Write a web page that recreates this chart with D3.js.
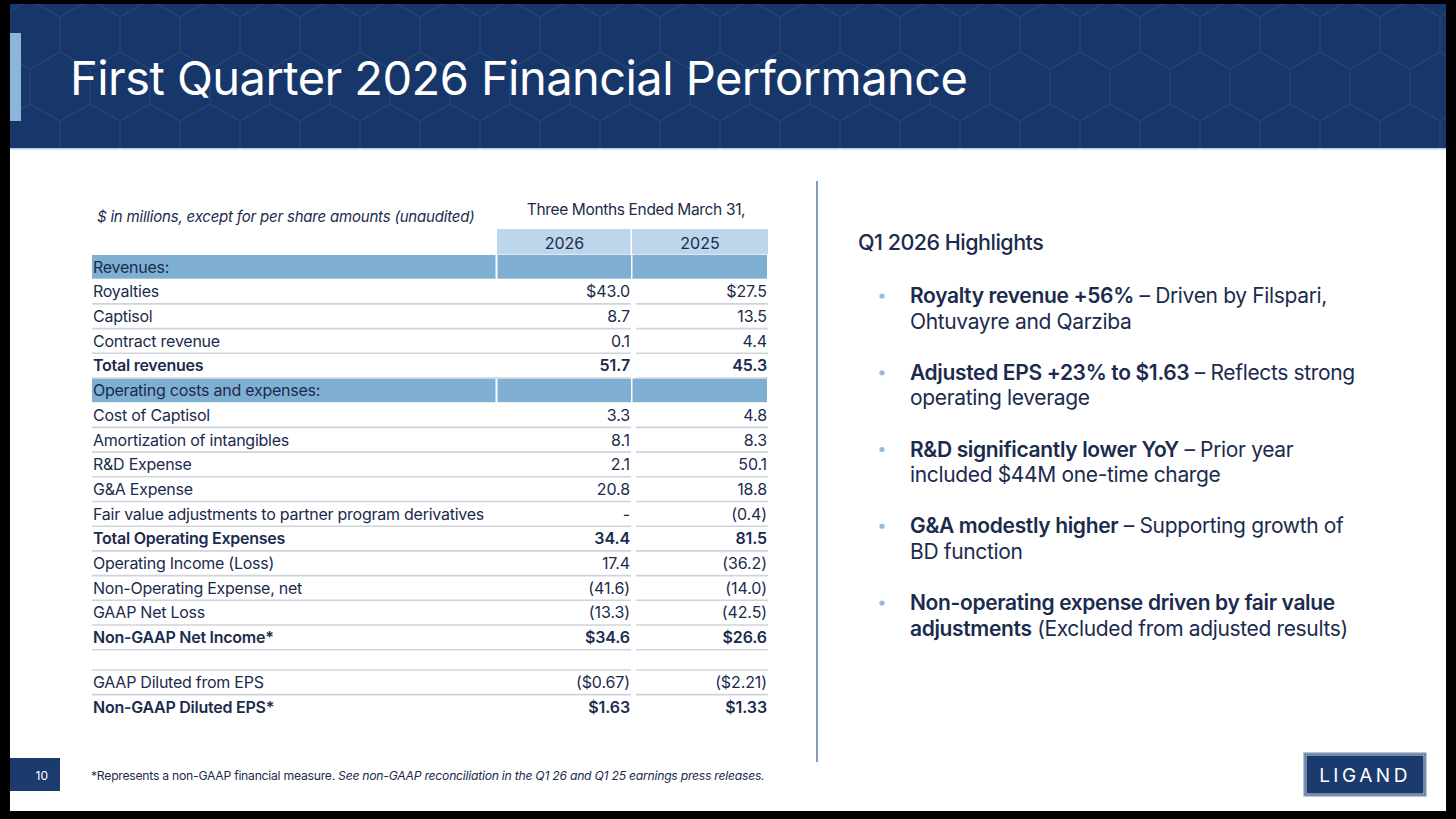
<!DOCTYPE html>
<html>
<head>
<meta charset="utf-8">
<script src="https://cdn.jsdelivr.net/npm/d3@7"></script>
<style>
  body { margin: 0; background: #000; }
  svg { display: block; }
  text { font-family: Inter, "Noto Sans", sans-serif; }
</style>
</head>
<body>
<svg id="chart"></svg>
<script>
// Table data
const rowLabels = [
  "Revenues:", "Royalties", "Captisol", "Contract revenue", "Total revenues",
  "Operating costs and expenses:", "Cost of Captisol", "Amortization of intangibles",
  "R&D Expense", "G&A Expense", "Fair value adjustments to partner program derivatives",
  "Total Operating Expenses", "Operating Income (Loss)", "Non-Operating Expense, net",
  "GAAP Net Loss", "Non-GAAP Net Income*", "", "GAAP Diluted from EPS", "Non-GAAP Diluted EPS*"
];
const rowKinds = [
  "section", "item", "item", "item", "total",
  "section", "item", "item", "item", "item", "item",
  "total", "item", "item", "item", "total", "spacer", "item", "total"
];
const q2026 = [null, 43.0, 8.7, 0.1, 51.7, null, 3.3, 8.1, 2.1, 20.8, 0, 34.4, 17.4, -41.6, -13.3, 34.6, null, -0.67, 1.63];
const q2025 = [null, 27.5, 13.5, 4.4, 45.3, null, 4.8, 8.3, 50.1, 18.8, -0.4, 81.5, -36.2, -14.0, -42.5, 26.6, null, -2.21, 1.33];
const dollarRows = ["Royalties", "Non-GAAP Net Income*", "GAAP Diluted from EPS", "Non-GAAP Diluted EPS*"];
const perShareRows = ["GAAP Diluted from EPS", "Non-GAAP Diluted EPS*"];
const years = ["2026", "2025"];

const highlights = [
  [[["Royalty revenue +56%", true], [" – Driven by Filspari,", false]], [["Ohtuvayre and Qarziba", false]]],
  [[["Adjusted EPS +23% to $1.63", true], [" – Reflects strong", false]], [["operating leverage", false]]],
  [[["R&D significantly lower YoY", true], [" – Prior year", false]], [["included $44M one-time charge", false]]],
  [[["G&A modestly higher", true], [" – Supporting growth of", false]], [["BD function", false]]],
  [[["Non-operating expense driven by fair value", true]], [["adjustments", true], [" (Excluded from adjusted results)", false]]]
];

const width = 1456, height = 819;
const navy = "#1b2b4d";
const svg = d3.select("#chart").attr("width", width).attr("height", height);

// slide background inside black frame
svg.append("rect").attr("x", 0).attr("y", 0).attr("width", width).attr("height", height).attr("fill", "#000");
svg.append("rect").attr("x", 10).attr("y", 4).attr("width", 1436).attr("height", 807).attr("fill", "#fff");

// header band with hex pattern
const defs = svg.append("defs");
const pat = defs.append("pattern").attr("id", "hex").attr("patternUnits", "userSpaceOnUse")
  .attr("width", 60).attr("height", 104);
pat.append("path")
  .attr("d", "M0,17 L30,0 L60,17 M30,0 L30,-17 M0,17 L0,52 L30,69 L60,52 L60,17 M30,69 L30,104 M0,52 L-30,69 M60,52 L90,69")
  .attr("fill", "none").attr("stroke", "rgba(255,255,255,0.07)").attr("stroke-width", 1.2);
svg.append("rect").attr("x", 10).attr("y", 4).attr("width", 1436).attr("height", 144).attr("fill", "#17376b");
svg.append("rect").attr("x", 10).attr("y", 4).attr("width", 1436).attr("height", 144).attr("fill", "url(#hex)");
svg.append("rect").attr("x", 10).attr("y", 148).attr("width", 1436).attr("height", 1.5).attr("fill", "#b7cbe3");
svg.append("rect").attr("x", 10).attr("y", 33).attr("width", 11).attr("height", 88).attr("fill", "#8db4d9");
svg.append("text").attr("x", 70).attr("y", 95).attr("fill", "#fff")
  .attr("font-size", 47).attr("letter-spacing", -0.55).attr("font-weight", 400)
  .text("First Quarter 2026 Financial Performance");

// table scales
const slot = rowKinds.map(k => k === "spacer" ? 0.82 : 1);
const cum = [0];
slot.forEach(s => cum.push(cum[cum.length - 1] + s));
const y = d3.scaleLinear().domain([0, cum[cum.length - 1]]).range([254.5, 254.5 + 24.7 * cum[cum.length - 1]]);
const rowTop = i => y(cum[i]);
const rowH = i => y(cum[i + 1]) - y(cum[i]);
const x = d3.scaleOrdinal().domain(["label", ...years]).range([92, 497, 632]);
const colRight = { label: 497, "2026": 632, "2025": 768 };

const fmt = (v, label) => {
  if (v === null) return "";
  if (v === 0) return "-";
  const s = (dollarRows.includes(label) ? "$" : "") + d3.format(perShareRows.includes(label) ? ".2f" : ".1f")(Math.abs(v));
  return v < 0 ? "(" + s + ")" : s;
};

const tbl = svg.append("g");
tbl.append("text").attr("x", 97).attr("y", 222).attr("fill", navy).attr("font-size", 15)
  .attr("font-style", "italic").attr("letter-spacing", -0.2)
  .text("$ in millions, except for per share amounts (unaudited)");
tbl.append("text").attr("x", 636).attr("y", 215).attr("text-anchor", "middle").attr("fill", navy)
  .attr("font-size", 15.5).attr("letter-spacing", -0.35).text("Three Months Ended March 31,");

// year header cells
tbl.selectAll(".yearcell").data(years).join("rect")
  .attr("x", d => x(d)).attr("y", 229).attr("width", d => colRight[d] - x(d) - (d === "2026" ? 1.5 : 0)).attr("height", 25.5)
  .attr("fill", "#bdd6ec");
tbl.selectAll(".yeartxt").data(years).join("text")
  .attr("x", d => (x(d) + colRight[d]) / 2).attr("y", 248.5).attr("text-anchor", "middle")
  .attr("fill", navy).attr("font-size", 16).text(d => d);

const rows = rowLabels.map((label, i) => ({ label, kind: rowKinds[i], v26: q2026[i], v25: q2025[i], i }));

// section bars
const sections = rows.filter(r => r.kind === "section");
["label", ...years].forEach(c => {
  tbl.selectAll(null).data(sections).join("rect")
    .attr("x", x(c) + (c === "label" ? 0 : 0.5)).attr("y", r => rowTop(r.i) + 0.5)
    .attr("width", colRight[c] - x(c) - 1.5).attr("height", r => rowH(r.i) - 1)
    .attr("fill", "#7fafd3");
});

// row separator lines
const lined = rows.filter(r => r.kind !== "section" && r.kind !== "spacer" && r.i < rows.length - 1);
const afterSpacer = rows.filter(r => r.i > 0 && rows[r.i - 1].kind === "spacer");
const lineSegs = [[92, 631], [636, 768]];
lineSegs.forEach(seg => {
  tbl.selectAll(null).data(lined).join("line")
    .attr("x1", seg[0]).attr("x2", seg[1])
    .attr("y1", r => rowTop(r.i) + rowH(r.i)).attr("y2", r => rowTop(r.i) + rowH(r.i))
    .attr("stroke", "#d0d3d9").attr("stroke-width", 1.6);
  tbl.selectAll(null).data(afterSpacer).join("line")
    .attr("x1", seg[0]).attr("x2", seg[1])
    .attr("y1", r => rowTop(r.i)).attr("y2", r => rowTop(r.i))
    .attr("stroke", "#d0d3d9").attr("stroke-width", 1.6);
});

// labels and values
const textRows = rows.filter(r => r.kind !== "spacer");
const weight = r => r.kind === "total" ? 600 : 400;
const baseY = r => rowTop(r.i) + rowH(r.i) / 2 + 5.8;
tbl.selectAll(".lbl").data(textRows).join("text")
  .attr("x", 93).attr("y", baseY)
  .attr("fill", navy).attr("font-size", 16).attr("font-weight", weight).attr("letter-spacing", -0.25)
  .text(r => r.label);
tbl.selectAll(".v26").data(textRows).join("text")
  .attr("x", 630).attr("y", baseY).attr("text-anchor", "end")
  .attr("fill", navy).attr("font-size", 16).attr("font-weight", weight).attr("letter-spacing", -0.1)
  .text(r => fmt(r.v26, r.label));
tbl.selectAll(".v25").data(textRows).join("text")
  .attr("x", 767).attr("y", baseY).attr("text-anchor", "end")
  .attr("fill", navy).attr("font-size", 16).attr("font-weight", weight).attr("letter-spacing", -0.1)
  .text(r => fmt(r.v25, r.label));

// divider
svg.append("line").attr("x1", 817).attr("x2", 817).attr("y1", 181).attr("y2", 762)
  .attr("stroke", "#5c7aa3").attr("stroke-width", 1.5);

// highlights
const hl = svg.append("g");
hl.append("text").attr("x", 858).attr("y", 249.5).attr("fill", navy).attr("font-size", 21.5)
  .attr("font-weight", 500).attr("letter-spacing", -0.5).text("Q1 2026 Highlights");
const hy = d3.scaleLinear().domain([0, 4]).range([303, 610]);
highlights.forEach((item, k) => {
  hl.append("circle").attr("cx", 882).attr("cy", hy(k) - 7).attr("r", 2.6).attr("fill", "#9ab8d8");
  item.forEach((line, j) => {
    const t = hl.append("text").attr("x", 910).attr("y", hy(k) + j * 25.5)
      .attr("fill", navy).attr("font-size", 21).attr("letter-spacing", -0.35);
    t.selectAll("tspan").data(line).join("tspan")
      .attr("font-weight", d => d[1] ? 600 : 400).text(d => d[0]);
  });
});

// footer
svg.append("rect").attr("x", 10).attr("y", 758).attr("width", 50).attr("height", 33).attr("fill", "#1b3a6e");
svg.append("text").attr("x", 48).attr("y", 779.5).attr("text-anchor", "end").attr("fill", "#fff")
  .attr("font-size", 12).text("10");
const foot = svg.append("text").attr("x", 91).attr("y", 780).attr("fill", navy).attr("font-size", 12.2).attr("letter-spacing", -0.25);
foot.append("tspan").text("*Represents a non-GAAP financial measure. ");
foot.append("tspan").attr("font-style", "italic").text("See non-GAAP reconciliation in the Q1 26 and Q1 25 earnings press releases.");

// logo
svg.append("rect").attr("x", 1304).attr("y", 753).attr("width", 122).attr("height", 43)
  .attr("fill", "#1b3a6e").attr("stroke", "#9fb3cc").attr("stroke-width", 1.5);
svg.append("rect").attr("x", 1306).attr("y", 755).attr("width", 118).attr("height", 39)
  .attr("fill", "none").attr("stroke", "#fff").attr("stroke-width", 0.8);
svg.append("text").attr("x", 1365).attr("y", 782).attr("text-anchor", "middle").attr("fill", "#fff")
  .attr("font-size", 19).attr("letter-spacing", 3.5).text("LIGAND");
</script>
</body>
</html>
